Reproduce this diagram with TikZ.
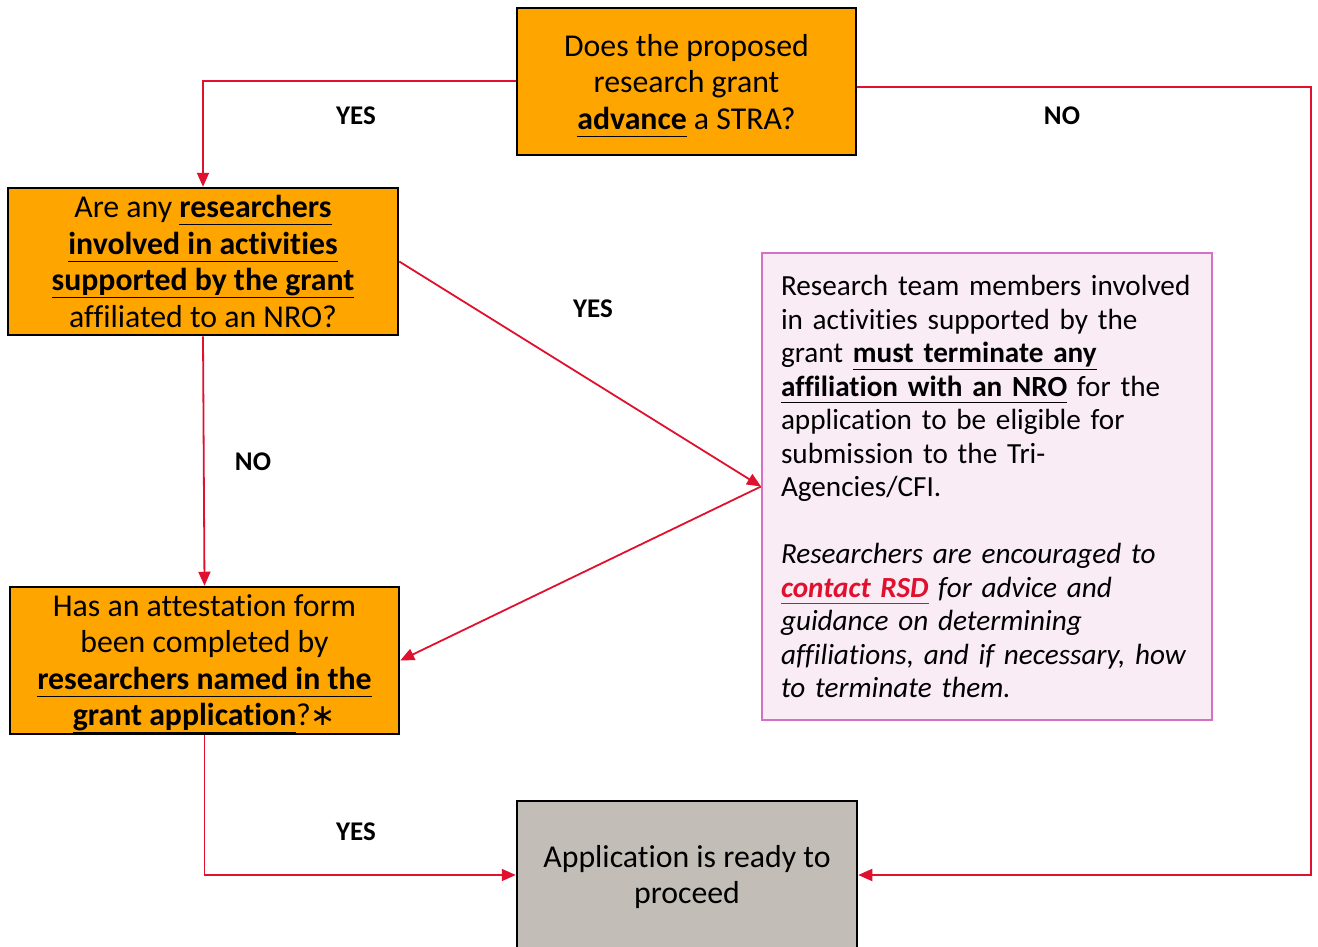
\documentclass[tikz,border=0pt]{standalone}
\usepackage{fontspec}
\setmainfont{Carlito}[Ligatures=NoCommon]
\newfontfamily\symfont{DejaVu Sans}
\usetikzlibrary{arrows.meta,positioning}
\definecolor{boxorange}{HTML}{FFA500}
\definecolor{boxgray}{HTML}{C2BEB7}
\definecolor{pinkfill}{HTML}{F9ECF5}
\definecolor{pinkline}{HTML}{D470C6}
\definecolor{linered}{HTML}{E0102F}
\newcommand{\myul}[1]{\underline{#1\vphantom{gpy}}}
\newcommand{\bigast}{{\symfont\fontsize{30}{30}\selectfont ∗}}
\tikzset{
  qbox/.style={draw=black, line width=2.5pt, fill=boxorange, inner sep=0pt},
  endbox/.style={draw=black, line width=2.5pt, fill=boxgray, inner sep=0pt},
  qtext/.style={align=center, inner sep=0pt, font=\fontsize{31.8}{36.5}\selectfont},
  notebox/.style={draw=pinkline, line width=2pt, fill=pinkfill, align=left, inner xsep=19pt,
    text width=412pt, minimum height=467pt, font=\fontsize{29.2}{33.5}\selectfont},
  arr/.style={draw=linered, line width=1.8pt, -{Triangle[length=14pt,width=12pt]}},
  lbl/.style={font=\bfseries\fontsize{27}{30}\selectfont}
}
\begin{document}
\begin{tikzpicture}[x=1pt,y=-1pt]
\useasboundingbox (0,0) rectangle (1318,946);
\node[qbox, minimum width=339pt, minimum height=147pt] (top) at (686.5,81.5) {};
\node[qtext] (topt) at ([yshift=-4pt]top.center)
  {Does the proposed\\research grant\\\textbf{\myul{advance}} a STRA?};
\node[qbox, minimum width=390pt, minimum height=147pt] (a) at (203,261.5) {};
\node[qtext] (at) at (a.center)
  {Are any \textbf{\myul{researchers}}\\\textbf{\myul{involved in activities}}\\\textbf{\myul{supported by the grant}}\\affiliated to an NRO?};
\node[qbox, minimum width=389pt, minimum height=147pt] (b) at (204.5,660.5) {};
\node[qtext] (bt) at ([yshift=-3pt]b.center)
  {Has an attestation form\\been completed by\\\textbf{\myul{researchers named in the}}\\\textbf{\myul{grant application}}?\bigast};
\node[notebox] (note) at (987,486.5)
  {Research team members involved\\in activities supported by the\\grant \textbf{\myul{must terminate any}}\\\textbf{\myul{affiliation with an NRO}} for the\\application to be eligible for\\submission to the Tri-\\Agencies/CFI.\\[33.5pt]
  \textit{Researchers are encouraged to}\\\textit{\textbf{\color{linered}\myul{contact RSD}}} \textit{for advice and}\\\textit{guidance on determining}\\\textit{affiliations, and if necessary, how}\\\textit{to terminate them.}};
\node[endbox, minimum width=340pt, minimum height=148pt] (bot) at (687,875) {};
\node[qtext] (bott) at ([yshift=-2pt]bot.center) {Application is ready to\\proceed};
\coordinate (c1) at (1311,87);
\draw[arr] ([yshift=0.5pt]top.west) -| (a.north);
\draw[arr] ([yshift=-5.5pt]top.east) -- (c1) |- (bot.east);
\draw[arr] (a.east) -- (note.west);
\draw[arr] (note.west) -- (b.east);
\draw[arr] (a.south) -- (b.north);
\draw[arr] (b.south) |- (bot.west);
\node[lbl] (l1) at (356,116) {YES};
\node[lbl] (l2) at (1062,116) {NO};
\node[lbl] (l3) at (593,309) {YES};
\node[lbl] (l4) at (253,462) {NO};
\node[lbl] (l5) at (356,832) {YES};
\end{tikzpicture}
\end{document}
